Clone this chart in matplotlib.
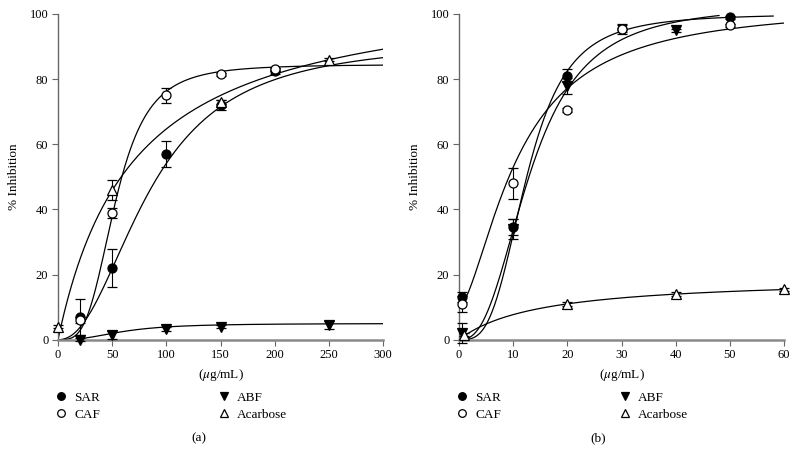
import numpy as np
import matplotlib
matplotlib.use('Agg')
import matplotlib.pyplot as plt
from matplotlib.lines import Line2D

plt.rcParams['font.family'] = 'Liberation Serif'
plt.rcParams['mathtext.fontset'] = 'stix'

names = ['SAR', 'CAF', 'ABF', 'Acarbose']

# panel (a): concentrations, % inhibition, error (SD)
a_sar_x = [20, 50, 100, 150, 200]
a_sar_y = [7, 22, 57, 72, 82.5]
a_sar_e = [5.5, 5.7, 4, 1.5, 1]
a_caf_x = [20, 50, 100, 150, 200]
a_caf_y = [6, 39, 75, 81.5, 83]
a_caf_e = [1, 1.5, 2.3, 0.5, 0.5]
a_abf_x = [20, 50, 100, 150, 250]
a_abf_y = [0, 1.5, 3.3, 4, 4.5]
a_abf_e = [0.5, 1.2, 0.5, 0.5, 1.2]
a_aca_x = [0, 50, 150, 250]
a_aca_y = [4, 46, 73, 86]
a_aca_e = [0.5, 3, 0.5, 0.5]

# panel (b)
b_sar_x = [0.5, 10, 20, 30, 50]
b_sar_y = [13, 34.5, 81, 95.5, 99]
b_sar_e = [1.5, 2.5, 2, 1, 0.5]
b_caf_x = [0.5, 10, 20, 30, 50]
b_caf_y = [11, 48, 70.5, 95.5, 96.5]
b_caf_e = [2.5, 4.7, 0.5, 1.5, 0.5]
b_abf_x = [0.5, 10, 20, 40]
b_abf_y = [2, 34, 78, 95]
b_abf_e = [3, 3, 2.5, 0.5]
b_aca_x = [1, 20, 40, 60]
b_aca_y = [1.5, 11, 14, 15.5]
b_aca_e = [0.5, 0.5, 0.5, 0.5]

# fitted dose-response curves: bottom, top, EC50, slope, x range
a_sar_fit = [0, 92, 85, 2.2, 0, 300]
a_caf_fit = [0, 84.5, 53, 3.5, 0, 300]
a_abf_fit = [0, 5, 60, 2.5, 20, 300]
a_aca_fit = [0, 110, 70, 1.0, 0, 300]
b_sar_fit = [0, 100, 12.5, 3.3, 1, 58]
b_caf_fit = [10, 103, 11, 1.6, 0.5, 60]
b_abf_fit = [0, 103, 13.2, 2.6, 1, 48]
b_aca_fit = [0, 19.25, 15, 1.0, 0, 60]


def hill(x, p):
    b, t, k, n = p[:4]
    return b + (t - b) * x ** n / (x ** n + k ** n)


styles = [('o', 'black'), ('o', 'white'), ('v', 'black'), ('^', 'white')]


def panel(ax, data, fits, xmax, xstep, tag, tag_x):
    for (x, y, e), fit, (m, fc) in zip(data, fits, styles):
        xs = np.linspace(fit[4], fit[5], 400)
        ax.plot(xs, hill(xs, fit), color='black', lw=0.9, zorder=2)
        ax.errorbar(x, y, yerr=e, fmt=m, ms=6.5, mfc=fc, mec='black', mew=0.9,
                    ecolor='black', elinewidth=0.8, capsize=3.5, capthick=0.8,
                    zorder=3, clip_on=False)
    ax.set_xlim(0, xmax)
    ax.set_ylim(0, 100)
    ax.set_xticks(np.arange(0, xmax + 1, xstep))
    ax.set_yticks(np.arange(0, 101, 20))
    for s in ['top', 'right']:
        ax.spines[s].set_visible(False)
    ax.spines['left'].set_color('#666666')
    ax.spines['left'].set_linewidth(1.0)
    ax.spines['bottom'].set_color('#8a8a8a')
    ax.spines['bottom'].set_linewidth(1.8)
    ax.tick_params(direction='out', length=4, width=0.8, colors='#666666',
                   labelcolor='black', labelsize=9, pad=3)
    ax.text(-0.135, 0.5, '% Inhibition', rotation=90, ha='center', va='center',
            fontsize=9.5, transform=ax.transAxes)
    ax.text(0.5, -0.108, r'($\mu$g/mL)', ha='center', va='center',
            fontsize=9.5, transform=ax.transAxes)

    handles = [Line2D([], [], ls='none', marker=m, ms=5.5, mfc=fc, mec='black', mew=0.9)
               for m, fc in styles]
    kw = dict(loc='upper left', frameon=False, fontsize=9.5, handlelength=0.8,
              handletextpad=0.6, labelspacing=0.35, borderpad=0, borderaxespad=0)
    leg1 = ax.legend(handles[:2], names[:2], bbox_to_anchor=(-0.006, -0.160), **kw)
    ax.add_artist(leg1)
    ax.legend(handles[2:], names[2:], bbox_to_anchor=(0.493, -0.160), **kw)
    fig.text(tag_x / 798, 1 - 438 / 465, tag, ha='center', va='center', fontsize=9.5)


fig = plt.figure(figsize=(7.98, 4.65), dpi=100)
ax1 = fig.add_axes([58 / 798, 125.3 / 465, 325 / 798, 325.7 / 465])
ax2 = fig.add_axes([459 / 798, 125.3 / 465, 325 / 798, 325.7 / 465])

panel(ax1,
      [(a_sar_x, a_sar_y, a_sar_e), (a_caf_x, a_caf_y, a_caf_e),
       (a_abf_x, a_abf_y, a_abf_e), (a_aca_x, a_aca_y, a_aca_e)],
      [a_sar_fit, a_caf_fit, a_abf_fit, a_aca_fit], 300, 50, '(a)', 199)
panel(ax2,
      [(b_sar_x, b_sar_y, b_sar_e), (b_caf_x, b_caf_y, b_caf_e),
       (b_abf_x, b_abf_y, b_abf_e), (b_aca_x, b_aca_y, b_aca_e)],
      [b_sar_fit, b_caf_fit, b_abf_fit, b_aca_fit], 60, 10, '(b)', 598)

fig.savefig('out.png', dpi=100)
